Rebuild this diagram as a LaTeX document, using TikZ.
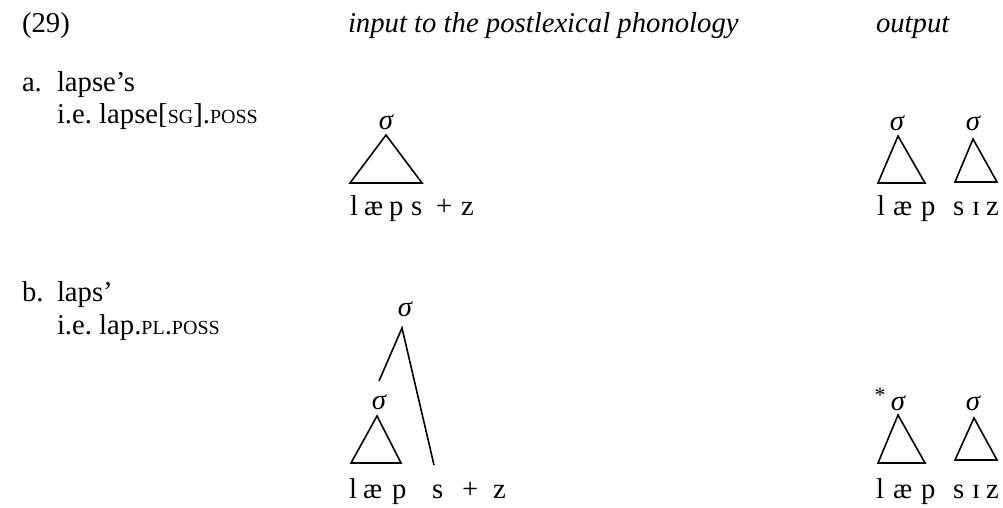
\documentclass[tikz,border=0pt]{standalone}
\usepackage{fontspec}
\setmainfont{Liberation Serif}
\newcommand{\smcap}[1]{{\fontsize{20}{20}\selectfont #1}}
\begin{document}
\frenchspacing
\begin{tikzpicture}[x=1pt,y=-1pt,
  every node/.style={inner sep=0pt, outer sep=0pt},
  txt/.style={anchor=base west, font=\fontsize{28.7}{34}\selectfont},
  hdr/.style={anchor=base west, font=\fontsize{28.7}{34}\selectfont\itshape},
  seg/.style={anchor=base west, font=\fontsize{28.7}{34}\selectfont},
  sig/.style={anchor=center, font=\fontsize{28.7}{34}\selectfont\itshape},
  star/.style={anchor=center, font=\fontsize{22}{22}\selectfont},
  tri/.style={line width=1.6pt, line join=miter},
  branch/.style={line width=1.6pt}]
\useasboundingbox (0,0) rectangle (1003,508);
% header
\node[txt] (num) at (22,33) {(29)};
\node[hdr] (hin) at (348,33) {input to the postlexical phonology};
\node[hdr] (hout) at (876,33) {output};
% example a labels
\node[txt] (alab) at (22,92) {a.};
\node[txt] (aword) at (57,92) {lapse’s};
\node[txt] (agloss) at (57,124) {i.e. lapse[\smcap{SG}].\smcap{POSS}};
% example b labels
\node[txt] (blab) at (22,301) {b.};
\node[txt] (bword) at (57,301) {laps’};
\node[txt] (bgloss) at (57,334) {i.e. lap.\smcap{PL}.\smcap{POSS}};
% a input
\node[sig] (aiS) at (386,122) {σ};
\coordinate (aiT) at (386,135);
\coordinate (aiL) at (350,183);
\coordinate (aiR) at (422,183);
\draw[tri] (aiT) -- (aiL) -- (aiR) -- cycle;
\node[seg] (ai1) at (350,215) {l};
\node[seg] (ai2) at (364,215) {æ};
\node[seg] (ai3) at (389,215) {p};
\node[seg] (ai4) at (411,215) {s};
\node[seg] (ai5) at (436,215) {+};
\node[seg] (ai6) at (461,215) {z};
% a output
\node[sig] (ao1S) at (897,123) {σ};
\coordinate (ao1T) at (898,136);
\coordinate (ao1L) at (878,183);
\coordinate (ao1R) at (925,183);
\draw[tri] (ao1T) -- (ao1L) -- (ao1R) -- cycle;
\node[sig] (ao2S) at (973,123) {σ};
\coordinate (ao2T) at (973,139);
\coordinate (ao2L) at (955,182);
\coordinate (ao2R) at (997,182);
\draw[tri] (ao2T) -- (ao2L) -- (ao2R) -- cycle;
\node[seg] (ao1) at (877,215) {l};
\node[seg] (ao2) at (893,215) {æ};
\node[seg] (ao3) at (921,215) {p};
\node[seg] (ao4) at (953,215) {s};
\node[seg] (ao5) at (972,215) {ɪ};
\node[seg] (ao6) at (986,215) {z};
% b input
\node[sig] (biTop) at (405,309) {σ};
\coordinate (biA) at (402,328);
\coordinate (biAL) at (379,381);
\coordinate (biAR) at (434,465);
\draw[branch] (biAL) -- (biA) -- (biAR);
\node[sig] (biS) at (379,402) {σ};
\coordinate (biT) at (377,416);
\coordinate (biL) at (351,463);
\coordinate (biR) at (401,463);
\draw[tri] (biT) -- (biL) -- (biR) -- cycle;
\node[seg] (bi1) at (349,498) {l};
\node[seg] (bi2) at (363,498) {æ};
\node[seg] (bi3) at (392,498) {p};
\node[seg] (bi4) at (432,498) {s};
\node[seg] (bi5) at (462,498) {+};
\node[seg] (bi6) at (493,498) {z};
% b output
\node[star] (bstar) at (880,395) {*};
\node[sig] (bo1S) at (898,403) {σ};
\coordinate (bo1T) at (898,415);
\coordinate (bo1L) at (878,463);
\coordinate (bo1R) at (925,463);
\draw[tri] (bo1T) -- (bo1L) -- (bo1R) -- cycle;
\node[sig] (bo2S) at (973,403) {σ};
\coordinate (bo2T) at (974,418);
\coordinate (bo2L) at (955,460);
\coordinate (bo2R) at (997,460);
\draw[tri] (bo2T) -- (bo2L) -- (bo2R) -- cycle;
\node[seg] (bo1) at (876,498) {l};
\node[seg] (bo2) at (893,498) {æ};
\node[seg] (bo3) at (921,498) {p};
\node[seg] (bo4) at (953,498) {s};
\node[seg] (bo5) at (972,498) {ɪ};
\node[seg] (bo6) at (986,498) {z};
\end{tikzpicture}
\end{document}
